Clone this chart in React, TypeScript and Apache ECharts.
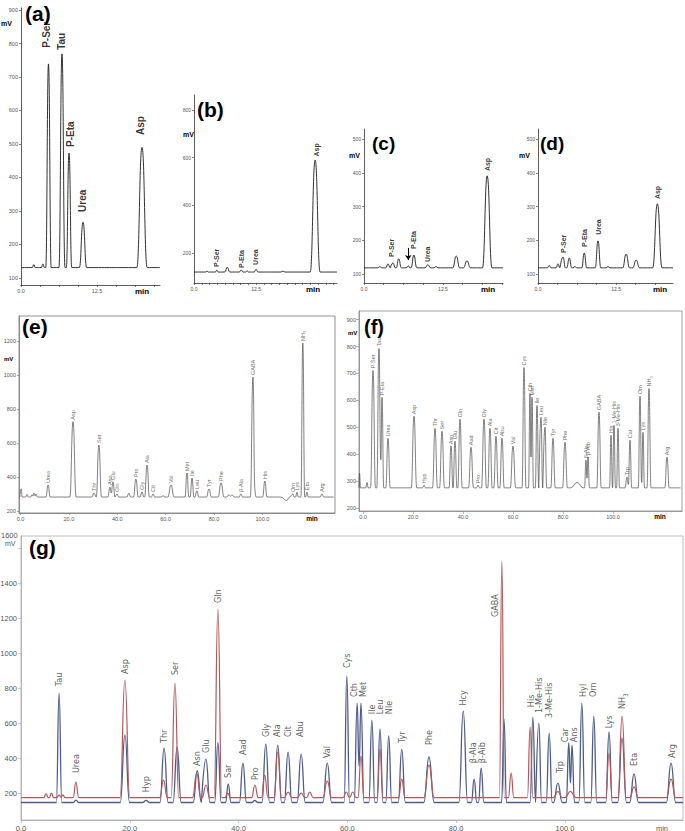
import React, { useEffect, useRef } from "react";
import * as echarts from "echarts";

// ---------------- (a) ----------------
const aPeakT = [2.1, 3.6, 4.52, 6.74, 7.9, 10.2, 19.9];
const aPeakV = [140, 142, 739, 769, 473, 266, 490];
const aPeakW = [0.25, 0.25, 0.45, 0.5, 0.45, 0.6, 0.85];
const aBase = 131;
const aLabelNames = ["P-Ser", "Tau", "P-Eta", "Urea", "Asp"];
const aLabelT = [4.2, 6.7, 8.1, 10.1, 19.7];
const aLabelAt = [787, 781, 491, 297, 527];
const aXLabels = [0, 12.5];
const aXTicks = [0, 3.125, 6.25, 9.375, 12.5, 15.625, 18.75, 21.875];
const aYLabels = [100, 200, 300, 400, 500, 600, 700, 800, 900];

// ---------------- (b) ----------------
const bPeakT = [2.6, 4.6, 6.7, 9.5, 10.7, 12.5, 17.9, 24.4];
const bPeakV = [124, 128, 140, 128, 125, 131, 124, 590];
const bPeakW = [0.3, 0.3, 0.5, 0.4, 0.3, 0.4, 0.4, 1.0];
const bBase = 120;
const bLabelNames = ["P-Ser", "P-Eta", "Urea", "Asp"];
const bLabelT = [4.6, 9.5, 12.3, 24.6];
const bLabelAt = [141, 137, 150, 605];
const bXLabels = [0, 12.5];
const bXTicks = [0, 1.5625, 3.125, 4.6875, 6.25, 7.8125, 9.375, 10.9375, 12.5, 14.0625, 15.625, 17.1875, 18.75, 20.3125, 21.875, 23.4375, 25, 26.5625, 28.125];
const bYLabels = [200, 400, 600, 800];

// ---------------- (c) ----------------
const cPeakT = [2.5, 3.8, 4.6, 5.5, 7.0, 7.9, 10.1, 11.4, 14.6, 16.3, 19.5];
const cPeakV = [122, 130, 133, 145, 124, 156, 127, 122, 153, 139, 391];
const cPeakW = [0.3, 0.35, 0.35, 0.4, 0.3, 0.45, 0.45, 0.3, 0.55, 0.55, 0.75];
const cBase = 118;
const cLabelNames = ["P-Ser", "P-Eta", "Urea", "Asp"];
const cLabelT = [4.4, 7.9, 10.1, 19.5];
const cLabelAt = [150, 174, 135, 405];
const cArrowT = 7.0;
const cArrowFrom = 177;
const cArrowTo = 141;
const cXLabels = [0, 12.5];
const cXTicks = [0, 3.125, 6.25, 9.375, 12.5, 15.625, 18.75, 21.875];
const cYLabels = [100, 200, 300, 400, 500];

// ---------------- (d) ----------------
const dPeakT = [1.8, 3.2, 4.0, 5.0, 5.9, 7.4, 9.6, 11.2, 14.1, 15.7, 19.1];
const dPeakV = [125, 130, 150, 147, 122, 162, 198, 122, 159, 141, 308];
const dPeakW = [0.3, 0.3, 0.4, 0.4, 0.3, 0.4, 0.45, 0.3, 0.55, 0.55, 0.75];
const dBase = 118;
const dLabelNames = ["P-Ser", "P-Eta", "Urea", "Asp"];
const dLabelT = [4.0, 7.4, 9.6, 19.1];
const dLabelAt = [162, 180, 216, 322];
const dXLabels = [0, 12.5];
const dXTicks = [0, 3.125, 6.25, 9.375, 12.5, 15.625, 18.75];
const dYLabels = [100, 200, 300, 400, 500];

// ---------------- (e) ----------------
const ePeakNames = ["", "", "", "", "", "Urea", "Asp", "Thr", "Ser", "Asn", "Glu", "Gln", "", "Pro", "Gly", "Ala", "Cit", "", "Val", "Met", "Ile", "Leu", "Tyr", "Phe", "", "", "β-Ala", "GABA", "", "His", "", "Orn", "Lys", "NH3", "Eta", "Arg"];
const ePeakT = [0.3, 2.7, 4.8, 5.6, 6.4, 11.4, 21.7, 30.4, 32.4, 37.0, 38.2, 39.9, 44.8, 47.7, 50.2, 52.3, 54.8, 58.9, 62.2, 68.8, 70.9, 72.9, 77.9, 82.9, 86.2, 87.4, 91.1, 96.1, 96.9, 101.0, 110.0, 112.6, 114.3, 116.7, 118.4, 124.6];
const ePeakV = [330, 298, 295, 305, 300, 353, 725, 306, 588, 341, 371, 300, 305, 388, 312, 470, 300, 290, 353, 423, 394, 318, 329, 365, 295, 295, 300, 988, 330, 376, 262, 300, 310, 1188, 310, 300];
const ePeakW = [0.4, 0.6, 0.6, 0.6, 0.6, 0.9, 1.3, 0.9, 1.1, 0.9, 0.9, 0.7, 0.8, 1.0, 0.8, 1.0, 0.7, 0.8, 1.3, 0.8, 0.8, 0.8, 1.0, 1.2, 1.0, 1.0, 0.7, 1.1, 0.5, 0.9, 2.5, 0.6, 0.6, 0.8, 0.6, 0.8];
const eBase = 282;
const eXLabels = [0, 20, 40, 60, 80, 100];
const eYLabels = [200, 400, 600, 800, 1000, 1200];

// ---------------- (f) ----------------
const fPeakNames = ["", "", "P-Ser", "Tau", "P-Eta", "Urea", "Asp", "Hyp", "Thr", "Ser", "Asn", "Glu", "Gln", "Aad", "Pro", "Gly", "Ala", "Cit", "Abu", "Val", "Cys", "Cth", "Met", "Ile", "Leu", "Nle", "Tyr", "Phe", "", "β-Ala", "β-Aib", "GABA", "His", "1-Me-His", "3-Me-His", "Trp", "Car", "Orn", "Lys", "NH3", "Arg"];
const fPeakT = [-1.4, 1.6, 4.0, 6.4, 7.6, 10.0, 20.4, 24.4, 28.8, 31.6, 35.2, 36.8, 38.8, 43.2, 46.0, 48.4, 50.8, 53.2, 55.6, 60.0, 64.4, 66.8, 67.6, 69.6, 71.2, 72.8, 76.0, 80.8, 85.6, 89.2, 90.0, 94.4, 99.2, 100.4, 102.0, 105.6, 106.8, 110.8, 112.0, 114.4, 121.6];
const fPeakV = [330, 295, 711, 793, 611, 459, 541, 285, 496, 485, 430, 448, 530, 426, 285, 530, 496, 467, 459, 430, 722, 626, 611, 581, 537, 500, 459, 444, 295, 378, 389, 556, 470, 507, 496, 315, 452, 615, 481, 644, 389];
const fPeakW = [0.4, 0.5, 1.0, 0.9, 0.7, 0.9, 1.1, 0.6, 1.0, 1.0, 0.8, 0.8, 0.9, 1.0, 0.6, 1.0, 0.9, 0.9, 0.9, 1.1, 0.8, 0.6, 0.6, 0.7, 0.7, 0.7, 0.9, 1.0, 2.5, 0.6, 0.6, 0.9, 0.6, 0.6, 0.6, 0.8, 0.7, 0.7, 0.6, 0.8, 0.9];
const fBase = 275;
const fXLabels = [0, 20, 40, 60, 80, 100];
const fYLabels = [200, 300, 400, 500, 600, 700, 800, 900];

// ---------------- (g) ----------------
const gBlueT = [7.0, 10.1, 19.1, 23.0, 26.3, 28.7, 32.4, 34.0, 36.2, 38.1, 40.8, 43.0, 45.0, 47.2, 49.1, 51.5, 56.3, 59.9, 61.8, 62.5, 64.5, 66.0, 67.6, 70.0, 75.0, 81.3, 83.3, 84.6, 88.8, 94.1, 95.2, 97.1, 98.7, 100.7, 101.3, 103.1, 105.3, 108.1, 110.5, 112.7, 119.5];
const gBlueV = [771, 160, 531, 158, 457, 463, 326, 394, 486, 251, 371, 158, 480, 474, 434, 423, 371, 869, 714, 714, 617, 566, 526, 451, 406, 669, 280, 343, 623, 634, 600, 543, 257, 486, 474, 714, 640, 549, 514, 309, 371];
const gBlueW = [0.5, 0.5, 0.85, 0.6, 0.75, 0.75, 0.75, 0.75, 0.6, 0.5, 0.65, 0.5, 0.7, 0.7, 0.7, 0.75, 0.8, 0.5, 0.55, 0.55, 0.55, 0.55, 0.55, 0.65, 0.95, 0.8, 0.5, 0.5, 0.45, 0.5, 0.5, 0.55, 0.8, 0.45, 0.45, 0.55, 0.55, 0.6, 0.8, 0.8, 0.85];
const gBlueBase = 146;
const gRedT = [4.6, 5.6, 7.0, 7.7, 10.1, 19.1, 26.2, 28.3, 32.3, 34.0, 36.2, 38.0, 43.0, 44.8, 47.2, 49.1, 51.5, 53.1, 56.3, 59.8, 61.0, 62.5, 66.0, 70.0, 75.0, 88.4, 90.1, 93.6, 98.7, 101.0, 108.1, 110.5, 112.7, 119.5];
const gRedV = [195, 200, 190, 190, 263, 846, 274, 829, 314, 246, 1251, 200, 246, 303, 434, 205, 200, 205, 269, 206, 206, 411, 451, 280, 360, 1526, 314, 577, 210, 210, 429, 640, 234, 280];
const gRedW = [0.4, 0.4, 0.4, 0.4, 0.5, 0.9, 0.7, 0.7, 0.75, 0.7, 0.7, 0.5, 0.6, 0.6, 0.7, 0.7, 0.7, 0.6, 0.8, 0.6, 0.6, 0.55, 0.55, 0.6, 0.95, 0.45, 0.5, 0.5, 0.8, 1.0, 0.6, 0.75, 0.8, 0.85];
const gRedBase = 174;
const gLabelNames = ["Tau", "Urea", "Asp", "Hyp", "Thr", "Ser", "Asn", "Glu", "Gln", "Sar", "Aad", "Pro", "Gly", "Ala", "Cit", "Abu", "Val", "Cys", "Cth", "Met", "Ile", "Leu", "Nle", "Tyr", "Phe", "Hcy", "β-Ala", "β-Aib", "GABA", "His", "1-Me-His", "3-Me-His", "Trp", "Car", "Ans", "Hyl", "Orn", "Lys", "NH3", "Eta", "Arg"];
const gLabelT = [7.0, 10.1, 19.1, 23.0, 26.3, 28.3, 32.4, 34.0, 36.2, 38.1, 40.8, 43.0, 45.0, 47.1, 49.1, 51.3, 56.3, 59.9, 61.2, 62.9, 64.5, 66.0, 67.6, 70.0, 75.0, 81.3, 83.1, 84.7, 87.1, 93.8, 95.2, 97.1, 99.1, 100.0, 101.6, 103.3, 105.1, 108.1, 110.5, 112.7, 119.7];
const gLabelAt = [811, 314, 880, 205, 486, 874, 354, 429, 1286, 286, 417, 274, 520, 520, 520, 520, 400, 914, 749, 749, 651, 651, 651, 486, 474, 700, 371, 371, 1206, 691, 657, 629, 314, 491, 491, 749, 749, 571, 680, 354, 400];
const gXLabels = [0, 20, 40, 60, 80, 100];
const gYLabels = [200, 400, 600, 800, 1000, 1200, 1400, 1600];

// ---------------- helpers ----------------
const FONT = "'Liberation Sans', Arial, Helvetica, sans-serif";
const NARROW = "'Liberation Sans Narrow', 'Arial Narrow', 'DejaVu Sans Condensed', 'Liberation Sans', sans-serif";

function buildTrace(ts: number[], vs: number[], ws: number[], base: number, start: number, end: number): number[][] {
  const order = ts.map((_, i) => i).sort((p, q) => ts[p] - ts[q]);
  const pts: number[][] = [[start, base]];
  let prev = -1;
  for (const i of order) {
    const t = ts[i], h = vs[i], w = ws[i];
    const left = t - w;
    const last = pts[pts.length - 1];
    if (prev >= 0 && left < last[0]) {
      const t1 = ts[prev], h1 = vs[prev], w1 = ws[prev];
      const a1 = h1 - base, a2 = h - base;
      let x = (t1 + t) / 2, v = base;
      const den = a1 / w1 + a2 / w;
      if (a1 > 0 && a2 > 0 && den > 0) {
        x = (a1 - a2 + (a1 * t1) / w1 + (a2 * t) / w) / den;
        x = Math.min(Math.max(x, t1 + 0.01), t - 0.01);
        v = base + a1 * (1 - (x - t1) / w1);
        v = Math.max(base, Math.min(v, h1, h));
      }
      pts[pts.length - 1] = [x, v];
    } else if (left > last[0]) {
      pts.push([left, base]);
    }
    pts.push([t, h]);
    pts.push([t + w, base]);
    prev = i;
  }
  if (end > pts[pts.length - 1][0]) pts.push([end, base]);
  return pts;
}

type Panel = {
  left: number; top: number; width: number; height: number;
  xMin: number; xMax: number; yMin: number; yMax: number;
  xLabels: number[]; xTicks: number[]; yLabels: number[];
  frame: boolean; axisColor: string; labelColor: string;
  tickFont: number; tickLen: number; xMargin: number; yMargin: number;
  yHide?: number;
};

const panels: Panel[] = [
  { left: 21, top: 8, width: 139, height: 277, xMin: 0, xMax: 22.86, yMin: 79, yMax: 906, xLabels: aXLabels, xTicks: aXTicks, yLabels: aYLabels, frame: false, axisColor: "#333", labelColor: "#555", tickFont: 5.5, tickLen: 2, xMargin: 3, yMargin: 3 },
  { left: 194, top: 95, width: 143, height: 188, xMin: 0, xMax: 28.8, yMin: 74, yMax: 863, xLabels: bXLabels, xTicks: bXTicks, yLabels: bYLabels, frame: false, axisColor: "#333", labelColor: "#555", tickFont: 5, tickLen: 2, xMargin: 3, yMargin: 3 },
  { left: 364, top: 129, width: 139, height: 154, xMin: 0, xMax: 22.0, yMin: 73, yMax: 530, xLabels: cXLabels, xTicks: cXTicks, yLabels: cYLabels, frame: false, axisColor: "#333", labelColor: "#555", tickFont: 5, tickLen: 2, xMargin: 3, yMargin: 3 },
  { left: 538, top: 129, width: 135, height: 154, xMin: 0, xMax: 21.6, yMin: 73, yMax: 530, xLabels: dXLabels, xTicks: dXTicks, yLabels: dYLabels, frame: false, axisColor: "#333", labelColor: "#555", tickFont: 5, tickLen: 2, xMargin: 3, yMargin: 3 },
  { left: 19, top: 316, width: 316, height: 197, xMin: -0.62, xMax: 130, yMin: 188, yMax: 1347, xLabels: eXLabels, xTicks: eXLabels, yLabels: eYLabels, frame: true, axisColor: "#777", labelColor: "#555", tickFont: 5.5, tickLen: 2, xMargin: 3, yMargin: 3 },
  { left: 359, top: 311, width: 323, height: 200, xMin: -1.6, xMax: 127.6, yMin: 189, yMax: 932, xLabels: fXLabels, xTicks: fXLabels, yLabels: fYLabels, frame: true, axisColor: "#888", labelColor: "#555", tickFont: 5.5, tickLen: 3, xMargin: 3, yMargin: 3 },
  { left: 21, top: 536, width: 662, height: 284, xMin: 0, xMax: 121.7, yMin: 46, yMax: 1669, xLabels: gXLabels, xTicks: gXLabels, yLabels: gYLabels, frame: true, axisColor: "#aaa", labelColor: "#555", tickFont: 7.5, tickLen: 3, xMargin: 4, yMargin: 4, yHide: 1600 },
];

function labelSeries(idx: number, names: string[], ts: number[], ats: number[], fs: number, weight: string, color: string, dist: number, family = FONT) {
  const data: any[] = [];
  names.forEach((n, k) => {
    if (n) data.push({ value: [ts[k], ats[k]], name: n });
  });
  return {
    type: "scatter",
    xAxisIndex: idx,
    yAxisIndex: idx,
    silent: true,
    symbolSize: 0,
    data,
    z: 6,
    label: {
      show: true,
      position: "top",
      distance: dist,
      rotate: 90,
      align: "left",
      verticalAlign: "middle",
      formatter: (p: any) => (p.name === "NH3" ? "NH{s|3}" : p.name),
      fontSize: fs,
      fontWeight: weight,
      color,
      fontFamily: family,
      rich: {
        s: { fontSize: fs * 0.72, fontWeight: weight, color, fontFamily: family, verticalAlign: "bottom", lineHeight: fs * 1.45 },
      },
    },
  };
}

function traceSeries(idx: number, data: number[][], color: string, width: number, z = 3, extra: any = {}) {
  return {
    type: "line",
    xAxisIndex: idx,
    yAxisIndex: idx,
    data,
    symbol: "none",
    showSymbol: false,
    silent: true,
    smooth: 0.5,
    smoothMonotone: "x",
    lineStyle: { color, width },
    z,
    ...extra,
  };
}

function txt(x: number, y: number, text: string, size: number, weight = "bold", align = "left", color = "#000") {
  return {
    type: "text",
    x,
    y,
    silent: true,
    style: { text, fontSize: size, fontWeight: weight, fontFamily: FONT, fill: color, align, verticalAlign: "top" },
  };
}

function buildOption() {
  const grids: any[] = [];
  const xAxes: any[] = [];
  const yAxes: any[] = [];
  panels.forEach((p, i) => {
    grids.push({
      left: p.left, top: p.top, width: p.width, height: p.height,
      show: p.frame, borderColor: p.axisColor, borderWidth: p.frame ? 0.8 : 0,
      backgroundColor: "transparent", containLabel: false, outerBoundsMode: "none",
    });
    xAxes.push({
      gridIndex: i, type: "value", min: p.xMin, max: p.xMax,
      axisLine: { show: true, onZero: false, lineStyle: { color: p.axisColor, width: 0.8 } },
      axisTick: { show: true, inside: false, customValues: p.xTicks, length: p.tickLen, lineStyle: { color: p.axisColor, width: 0.6 } },
      axisLabel: { customValues: p.xLabels, formatter: (v: number) => v.toFixed(1), fontSize: p.tickFont, color: p.labelColor, margin: p.xMargin, fontFamily: FONT },
      splitLine: { show: false },
    });
    yAxes.push({
      gridIndex: i, type: "value", min: p.yMin, max: p.yMax,
      axisLine: { show: true, onZero: false, lineStyle: { color: p.axisColor, width: 0.8 } },
      axisTick: { show: true, inside: false, customValues: p.yLabels, length: p.tickLen, lineStyle: { color: p.axisColor, width: 0.6 } },
      axisLabel: { customValues: p.yLabels, formatter: (v: number) => (p.yHide === v ? "" : String(v)), fontSize: p.tickFont, color: p.labelColor, margin: p.yMargin, fontFamily: FONT },
      splitLine: { show: false },
    });
  });

  const ink = "#1c1c1c";
  const grayInk = "#4a4a4a";
  const series: any[] = [
    traceSeries(0, buildTrace(aPeakT, aPeakV, aPeakW, aBase, 0, 22.86), ink, 0.9),
    labelSeries(0, aLabelNames, aLabelT, aLabelAt, 10, "bold", "#000", 0),
    traceSeries(1, buildTrace(bPeakT, bPeakV, bPeakW, bBase, 0, 28.8), ink, 0.9),
    labelSeries(1, bLabelNames, bLabelT, bLabelAt, 7, "bold", "#000", 0),
    traceSeries(2, buildTrace(cPeakT, cPeakV, cPeakW, cBase, 0, 22.0), ink, 0.9, 3, {
      markLine: {
        silent: true,
        symbol: ["none", "arrow"],
        symbolSize: 5,
        label: { show: false },
        lineStyle: { color: "#000", width: 1, type: "solid" },
        data: [[{ coord: [cArrowT, cArrowFrom] }, { coord: [cArrowT, cArrowTo] }]],
      },
    }),
    labelSeries(2, cLabelNames, cLabelT, cLabelAt, 7, "bold", "#000", 0),
    traceSeries(3, buildTrace(dPeakT, dPeakV, dPeakW, dBase, 0, 21.6), ink, 0.9),
    labelSeries(3, dLabelNames, dLabelT, dLabelAt, 7, "bold", "#000", 0),
    traceSeries(4, buildTrace(ePeakT, ePeakV, ePeakW, eBase, -0.3, 129.5), grayInk, 0.7),
    labelSeries(4, ePeakNames, ePeakT, ePeakV, 5.5, "normal", "#444", 2),
    traceSeries(5, buildTrace(fPeakT, fPeakV, fPeakW, fBase, -1.6, 127), grayInk, 0.7),
    labelSeries(5, fPeakNames, fPeakT, fPeakV, 5.5, "normal", "#444", 2),
    traceSeries(6, buildTrace(gBlueT, gBlueV, gBlueW, gBlueBase, 0, 121.7), "#4e5b8b", 1.3, 3),
    traceSeries(6, buildTrace(gRedT, gRedV, gRedW, gRedBase, 0, 121.7), "#b4585a", 1.2, 4),
    labelSeries(6, gLabelNames, gLabelT, gLabelAt, 9, "normal", "#333", 0, NARROW),
  ];

  const graphic: any[] = [
    txt(25, 3, "(a)", 21),
    txt(1, 20, "mV", 7),
    txt(142, 287, "min", 8, "bold", "center"),
    txt(197, 99, "(b)", 21),
    txt(183, 131, "mV", 7),
    txt(313, 285, "min", 8, "bold", "center"),
    txt(372, 134, "(c)", 19),
    txt(349, 152, "mV", 7),
    txt(488, 285, "min", 8, "bold", "center"),
    txt(540, 134, "(d)", 19),
    txt(519, 152, "mV", 7),
    txt(660, 285, "min", 8, "bold", "center"),
    txt(22, 316, "(e)", 21),
    txt(4, 356, "mV", 6),
    txt(312, 515, "min", 6.5, "bold", "center"),
    txt(364, 317, "(f)", 20),
    txt(348, 330, "mV", 6),
    txt(660, 513, "min", 6.5, "bold", "center"),
    txt(29, 537, "(g)", 21),
    txt(1, 531, "1600", 7.5, "normal", "left", "#555"),
    txt(5, 540, "mV", 7, "normal", "left", "#555"),
    txt(662, 824, "min", 7.5, "normal", "center", "#555"),
  ];

  return {
    animation: false,
    backgroundColor: "#ffffff",
    textStyle: { fontFamily: FONT },
    grid: grids,
    xAxis: xAxes,
    yAxis: yAxes,
    series,
    graphic,
  };
}

export default function App() {
  const ref = useRef<HTMLDivElement | null>(null);
  useEffect(() => {
    document.body.style.margin = "0";
    if (!ref.current) return;
    const chart = echarts.init(ref.current, undefined, { renderer: "svg" });
    chart.setOption(buildOption() as any);
    return () => chart.dispose();
  }, []);
  return (
    <div
      ref={ref}
      style={{ position: "fixed", left: 0, top: 0, width: 685, height: 831, background: "#fff" }}
    />
  );
}
